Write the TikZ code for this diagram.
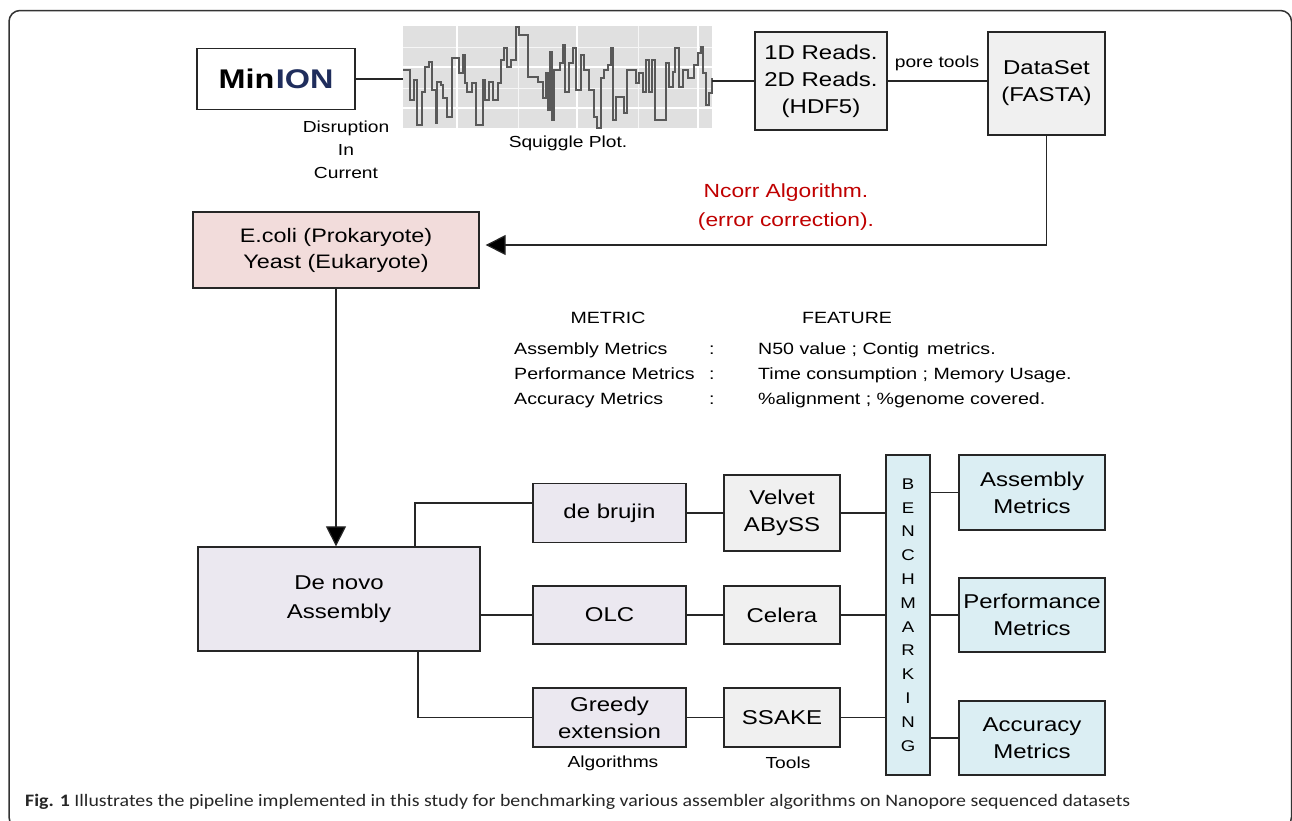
\documentclass[tikz,border=0pt]{standalone}
\usepackage{fontspec}
\usepackage{graphicx}
\setmainfont{Liberation Sans}[FakeStretch=1.2]
\newfontfamily\capfont{Carlito}
\usetikzlibrary{arrows.meta,calc}
\definecolor{lav}{HTML}{EBE8F0}
\definecolor{lgray}{HTML}{F0F0F0}
\definecolor{cpink}{HTML}{F2DCDB}
\definecolor{lblue}{HTML}{DBEEF3}
\definecolor{navy}{HTML}{1F2D5C}
\definecolor{ncorr}{HTML}{C00000}
\definecolor{sqbg}{HTML}{E0E0E0}
\begin{document}
\begin{tikzpicture}[x=1pt,y=-1pt,
  box/.style={draw=black!85, line width=1.3pt, inner sep=0pt, align=center, font=\fontsize{20}{27}\selectfont},
  conn/.style={draw=black!85, line width=1.2pt},
  arr/.style={conn, -{Triangle[length=20pt,width=20pt,fill=black]}},
  lbl/.style={font=\fontsize{16}{23}\selectfont, align=center, inner sep=0pt},
  tbl/.style={font=\fontsize{16.3}{16}\selectfont, inner sep=0pt},
  gridmaj/.style={white, line width=1.6pt},
  gridmin/.style={white!70!sqbg, line width=0.9pt},
]
\useasboundingbox (0,0) rectangle (1292,820);
\fill[white] (0,0) rectangle (1292,820);
\draw[black!80, line width=1.5pt, rounded corners=11pt] (9,10.5) rectangle (1291.5,828);

% squiggle plot
\node[fill=sqbg, inner sep=0pt, minimum width=309pt, minimum height=102pt] (squig) at (557.5,77) {};
\foreach \yy in {47,88} \draw[gridmin] (403,\yy) -- (712,\yy);
\foreach \xx in {518,638} \draw[gridmin] (\xx,26) -- (\xx,128);
\foreach \yy in {67,108} \draw[gridmaj] (403,\yy) -- (712,\yy);
\foreach \xx in {457,577,698} \draw[gridmaj] (\xx,26) -- (\xx,128);
\begin{scope}[shift={(400,20)}, x=0.33333pt, y=-0.33333pt]
\draw[black!65, line width=1.8pt] (10,150) -| (30,240) -| (42,180) -| (52,315) -| (65,215) -| (75,140) -| (88,125) -| (97,210) -| (108,310) -| (112,185) -| (123,195) -| (130,235) -| (142,290) -| (157,115) -| (177,160) -| (188,105) -| (195,190) -| (202,215) -| (215,190) -| (228,315) -| (248,180) -| (255,240) -| (268,185) -| (278,240) -| (293,190) -| (303,120) -| (313,85) -| (321,140) -| (333,120) -| (348,20) -| (356,45) -| (383,170) -| (413,185) -| (428,235) -| (438,160) -| (445,270) -| (450,95) -| (457,300) -| (462,150) -| (481,130) -| (489,75) -| (495,215) -| (508,130) -| (518,85) -| (528,210) -| (543,105) -| (553,150) -| (568,210) -| (583,290) -| (592,325) -| (603,175) -| (613,150) -| (623,135) -| (632,85) -| (638,300) -| (648,230) -| (673,280) -| (680,150) -| (708,190) -| (718,160) -| (728,215) -| (738,120) -| (748,215) -| (755,120) -| (765,300) -| (798,130) -| (808,200) -| (818,155) -| (825,85) -| (838,200) -| (848,150) -| (863,175) -| (883,135) -| (893,100) -| (902,80) -| (908,160) -| (918,255) -| (928,220) -| (935,175);
\end{scope}

% top row
\node[box, fill=white, minimum width=158pt, minimum height=61pt, font=\fontsize{27}{27}\selectfont\bfseries] (minion) at (276,79) {Min\kern1.5pt\textcolor{navy}{ION}};
\node[lbl] (disr) at (346,150) {Disruption\\In\\Current};
\node[lbl] (sqlbl) at (568,143) {Squiggle Plot.};
\node[box, fill=lgray, minimum width=132pt, minimum height=98pt] (reads) at (821,81) {1D Reads.\\2D Reads.\\(HDF5)};
\node[box, fill=lgray, minimum width=117pt, minimum height=103pt] (data) at (1046.5,83.5) {DataSet\\(FASTA)};
\node[lbl] (pore) at (937,63) {pore tools};

% error correction
\node[lbl, text=ncorr, font=\fontsize{19}{29}\selectfont] (ncorr) at (786,207) {Ncorr Algorithm.\\(error correction).};
\node[box, fill=cpink, minimum width=286pt, minimum height=76pt, font=\fontsize{19.5}{26}\selectfont] (ecoli) at (336,250) {E.coli (Prokaryote)\\Yeast (Eukaryote)};

% metric table
\node[tbl, anchor=base] (mh) at (608,323) {METRIC};
\node[tbl, anchor=base] (fh) at (847,323) {FEATURE};
\node[tbl, anchor=base west] (r1a) at (514,354) {Assembly Metrics};
\node[tbl, anchor=base west] (r1c) at (709,354) {:};
\node[tbl, anchor=base west] (r1f) at (758,354) {N50 value ; Contig\enspace metrics.};
\node[tbl, anchor=base west] (r2a) at (514,379) {Performance Metrics};
\node[tbl, anchor=base west] (r2c) at (709,379) {:};
\node[tbl, anchor=base west] (r2f) at (758,379) {Time consumption ; Memory Usage.};
\node[tbl, anchor=base west] (r3a) at (514,404) {Accuracy Metrics};
\node[tbl, anchor=base west] (r3c) at (709,404) {:};
\node[tbl, anchor=base west] (r3f) at (758,404) {\%alignment ; \%genome covered.};

% assembly part
\node[box, fill=lav, minimum width=282pt, minimum height=104pt, font=\fontsize{20}{29}\selectfont] (denovo) at (339,599) {De novo\\Assembly};
\node[box, fill=lav, minimum width=153pt, minimum height=59pt] (debrujin) at (609.5,513) {de brujin};
\node[box, fill=lav, minimum width=153pt, minimum height=58pt] (olc) at (609.5,615) {OLC};
\node[box, fill=lav, minimum width=153pt, minimum height=59pt] (greedy) at (609.5,717.5) {Greedy\\extension};
\node[box, fill=lgray, minimum width=116pt, minimum height=76pt] (velvet) at (782,513) {Velvet\\ABySS};
\node[box, fill=lgray, minimum width=116pt, minimum height=58pt] (celera) at (782,615) {Celera};
\node[box, fill=lgray, minimum width=116pt, minimum height=59pt] (ssake) at (782,717.5) {SSAKE};
\node[lbl] (alg) at (613,763) {Algorithms};
\node[lbl] (tools) at (788,763) {Tools};
\node[box, fill=lblue, minimum width=44pt, minimum height=320pt, font=\fontsize{15.5}{23.8}\selectfont] (bench) at (908,615) {B\\E\\N\\C\\H\\M\\A\\R\\K\\I\\N\\G};
\node[box, fill=lblue, minimum width=146pt, minimum height=75pt] (assm) at (1032,492.5) {Assembly\\Metrics};
\node[box, fill=lblue, minimum width=146pt, minimum height=74pt] (perf) at (1032,615) {Performance\\Metrics};
\node[box, fill=lblue, minimum width=146pt, minimum height=74pt] (accm) at (1032,738) {Accuracy\\Metrics};

% connectors
\draw[conn] (minion.east) -- (minion.east -| squig.west);
\draw[conn] (reads.west -| squig.east) -- (reads.west);
\draw[conn] (reads.east) -- (reads.east -| data.west);
\draw[arr, shorten >=6pt] (data.south) |- ([yshift=5pt]ecoli.east);
\draw[arr] (ecoli.south) -- (ecoli.south |- denovo.north);
\draw[conn] ([xshift=76pt]denovo.north) |- ([yshift=10pt]debrujin.west);
\draw[conn] (olc.west -| denovo.east) -- (olc.west);
\draw[conn] ([xshift=79pt]denovo.south) |- (greedy.west);
\draw[conn] (debrujin.east) -- (velvet.west);
\draw[conn] (olc.east) -- (celera.west);
\draw[conn] (greedy.east) -- (ssake.west);
\draw[conn] (velvet.east) -- (velvet.east -| bench.west);
\draw[conn] (celera.east) -- (celera.east -| bench.west);
\draw[conn] (ssake.east) -- (ssake.east -| bench.west);
\draw[conn] (assm.west -| bench.east) -- (assm.west);
\draw[conn] (perf.west -| bench.east) -- (perf.west);
\draw[conn] (accm.west -| bench.east) -- (accm.west);

% caption
\node[anchor=base west, inner sep=0pt, text=black!85] (cap) at (25,806) {\resizebox{1105pt}{\height}{\capfont\fontsize{17.5}{17}\selectfont\textbf{Fig. 1} Illustrates the pipeline implemented in this study for benchmarking various assembler algorithms on Nanopore sequenced datasets}};
\end{tikzpicture}
\end{document}
